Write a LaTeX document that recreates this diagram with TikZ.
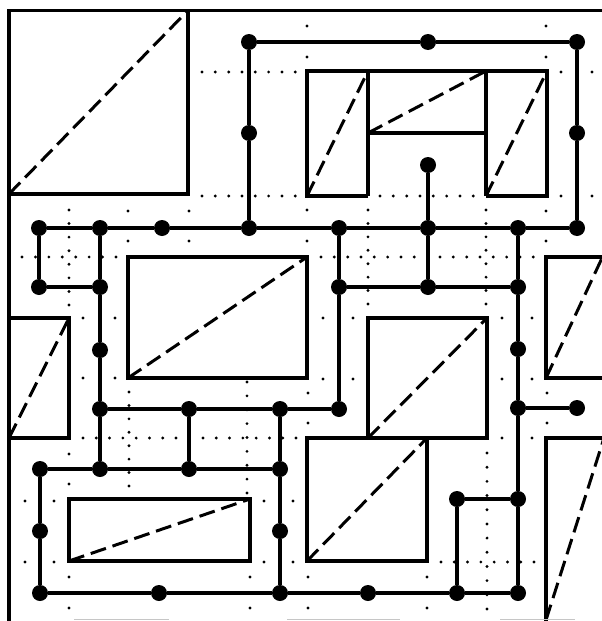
\documentclass[tikz,border=0pt]{standalone}
\usetikzlibrary{calc}
\newcommand{\dotrow}[3]{\foreach \i in {0,...,#3}{\fill ($#1!\i/#3!#2$) circle[radius=1.6pt];}}
\begin{document}
\begin{tikzpicture}[x=1pt,y=-1pt,
  wire/.style={line width=3.2pt},
  frame/.style={line width=3.2pt, line join=miter},
  diag/.style={line width=3pt, dash pattern=on 16pt off 7pt},
  pt/.style={circle, fill=black, inner sep=0pt, minimum size=16pt},
  scan/.style={gray!45, line width=1.6pt}
]
\useasboundingbox (0,0) rectangle (602,621);
\clip (0,0) rectangle (602,621);

% outer frame
\draw[frame] (9,621) -- (9,10.5) -- (602,10.5);

% rectangles
\draw[frame] (9,10.5) rectangle (188,194);
\draw[frame] (368,196) -- (307,196) -- (307,71) -- (547,71) -- (547,196) -- (486,196);
\draw[frame] (368,71) -- (368,196) (486,71) -- (486,196) (368,133) -- (486,133);
\draw[frame] (128,257) rectangle (307,378);
\draw[frame] (9,318) rectangle (69,438);
\draw[frame] (368,318) rectangle (487,438);
\draw[frame] (307,438) rectangle (427,561);
\draw[frame] (69,499) rectangle (250,561);
\draw[frame] (546,257) rectangle (612,378);
\draw[frame] (546,438) rectangle (612,640);

% dashed diagonals
\draw[diag] (9,194) -- (188,10.5);
\draw[diag] (307,196) -- (368,71);
\draw[diag] (368,133) -- (486,71);
\draw[diag] (486,196) -- (547,71);
\draw[diag] (128,378) -- (307,257);
\draw[diag] (9,438) -- (69,318);
\draw[diag] (368,438) -- (487,318);
\draw[diag] (307,561) -- (427,438);
\draw[diag] (69,561) -- (250,499);
\draw[diag] (546,378) -- (602.5,257);
\draw[diag] (546,620) -- (604,438);

% dotted construction lines
\dotrow{(202,72)}{(295.3,72)}{7}
\dotrow{(202,196)}{(295.3,196)}{7}
\dotrow{(380,196)}{(473.3,196)}{7}
\dotrow{(368,210)}{(368,304)}{7}
\dotrow{(486,210)}{(486,304)}{7}
\dotrow{(321,257)}{(414.3,257)}{7}
\dotrow{(440,257)}{(533.3,257)}{7}
\dotrow{(69,210)}{(69,305)}{7}
\dotrow{(22,257)}{(116,257)}{7}
\dotrow{(129,392)}{(129,486)}{7}
\dotrow{(83,438)}{(176,438)}{7}
\dotrow{(203,438)}{(296,438)}{7}
\dotrow{(247,382)}{(247,493)}{8}
\dotrow{(487,453)}{(487,609)}{11}
\dotrow{(441,562)}{(534,562)}{7}

% single dots
\foreach \x/\y in {307/26,307/57,546/26,546/57,561/72,592/72,561/196,592/196,
  307/210,307/241,546/211,546/241,128/211,189/211,128/241,189/241,
  83/318,115/318,83/378,115/378,69/454,69/484,
  25/501,54/501,25/562,54/562,69/577,69/608,250/577,250/608,
  264/501,293/501,264/562,293/562,
  323/318,353/318,323/379,353/379,502/318,532/318,502/379,532/379,
  308/393,308/423,547/393,547/423,502/438,532/438,
  308/577,308/608,427/577,427/608}
  {\fill (\x,\y) circle[radius=1.6pt];}

% faint scan marks at the bottom
\draw[scan] (74,619.5) -- (169,619.5);
\draw[scan] (287,619.5) -- (400,619.5);
\draw[scan] (500,619.5) -- (575,619.5);

% nodes
\node[pt] (a1) at (249,42) {};
\node[pt] (a2) at (428,42) {};
\node[pt] (a3) at (577,42) {};
\node[pt] (b1) at (249,133) {};
\node[pt] (b2) at (577,133) {};
\node[pt] (c1) at (428,165) {};
\node[pt] (d1) at (39,228) {};
\node[pt] (d2) at (100,228) {};
\node[pt] (d3) at (162,228) {};
\node[pt] (d4) at (249,228) {};
\node[pt] (d5) at (339,228) {};
\node[pt] (d6) at (428,228) {};
\node[pt] (d7) at (518,228) {};
\node[pt] (d8) at (577,228) {};
\node[pt] (e1) at (39,287) {};
\node[pt] (e2) at (100,287) {};
\node[pt] (e3) at (339,287) {};
\node[pt] (e4) at (428,287) {};
\node[pt] (e5) at (518,287) {};
\node[pt] (f1) at (100,350) {};
\node[pt] (f2) at (518,349) {};
\node[pt] (g1) at (100,409) {};
\node[pt] (g2) at (189,409) {};
\node[pt] (g3) at (280,409) {};
\node[pt] (g4) at (339,409) {};
\node[pt] (g5) at (518,408) {};
\node[pt] (g6) at (577,408) {};
\node[pt] (h1) at (40,469) {};
\node[pt] (h2) at (100,469) {};
\node[pt] (h3) at (189,469) {};
\node[pt] (h4) at (280,469) {};
\node[pt] (i1) at (457,499) {};
\node[pt] (i2) at (518,499) {};
\node[pt] (j1) at (40,531) {};
\node[pt] (j2) at (280,531) {};
\node[pt] (k1) at (40,593) {};
\node[pt] (k2) at (159,593) {};
\node[pt] (k3) at (280,593) {};
\node[pt] (k4) at (368,593) {};
\node[pt] (k5) at (457,593) {};
\node[pt] (k6) at (518,593) {};

% connectors
\draw[wire] (a1) -- (a2) -- (a3);
\draw[wire] (a1) -- (b1) -- (d4);
\draw[wire] (a3) -- (b2) -- (d8);
\draw[wire] (c1) -- (d6);
\draw[wire] (d1) -- (d2) -- (d3) -- (d4) -- (d5) -- (d6) -- (d7) -- (d8);
\draw[wire] (d1) -- (e1) -- (e2);
\draw[wire] (d2) -- (e2) -- (f1) -- (g1) -- (h2);
\draw[wire] (d5) -- (e3) -- (g4);
\draw[wire] (d6) -- (e4);
\draw[wire] (d7) -- (e5) -- (f2) -- (g5) -- (i2) -- (k6);
\draw[wire] (e3) -- (e4) -- (e5);
\draw[wire] (g1) -- (g2) -- (g3) -- (g4);
\draw[wire] (g5) -- (g6);
\draw[wire] (g2) -- (h3);
\draw[wire] (g3) -- (h4) -- (j2) -- (k3);
\draw[wire] (h1) -- (h2) -- (h3) -- (h4);
\draw[wire] (h1) -- (j1) -- (k1);
\draw[wire] (k1) -- (k2) -- (k3) -- (k4) -- (k5) -- (k6);
\draw[wire] (i1) -- (i2);
\draw[wire] (i1) -- (k5);
\end{tikzpicture}
\end{document}
